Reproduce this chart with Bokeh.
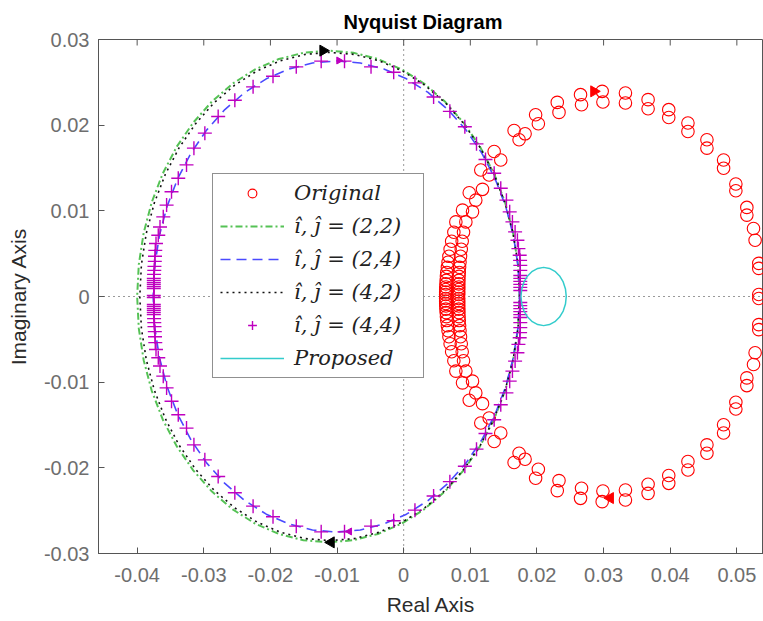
import numpy as np
from bokeh.plotting import figure
from bokeh.models import (Range1d, Span, FixedTicker, CustomJSTickFormatter,
                          Legend, LegendItem)
from bokeh.embed import file_html
from bokeh.resources import INLINE

# ---------------------------------------------------------------------------
# Nyquist data, positive-imaginary half of each response (the other half is
# the complex conjugate, i.e. the negative-frequency branch).
# ---------------------------------------------------------------------------

# "Original" response, sampled points (two interleaved sample sets)
orig_x = [
    0.05329, 0.05329, 0.0525, 0.0515, 0.04985, 0.04801, 0.04551, 0.04266,
    0.03978, 0.03668, 0.03328, 0.02979, 0.02654, 0.02305, 0.0198, 0.01657,
    0.01358, 0.01157, 0.00984, 0.00883, 0.00783,
    0.00753, 0.0072, 0.00697, 0.00679, 0.00666, 0.00656, 0.00647, 0.00642,
    0.00638, 0.00634, 0.00632, 0.00631, 0.0063, 0.0063,
    0.05329, 0.05274, 0.0515, 0.04985, 0.04801, 0.04551, 0.04266, 0.03978,
    0.03668, 0.03328, 0.0299, 0.02669, 0.02331, 0.02021, 0.01822, 0.01732,
    0.01457, 0.01283, 0.01183, 0.01082, 0.01033, 0.00933,
    0.00898, 0.00878, 0.00864, 0.00853, 0.00845, 0.00839, 0.00834, 0.00831,
    0.00829, 0.00828, 0.00827, 0.00826, 0.00826, 0.00826,
]
orig_y = [
    0.00023, 0.00387, 0.00794, 0.0104, 0.01313, 0.01594, 0.01829, 0.02025,
    0.02181, 0.02298, 0.02376, 0.02395, 0.02356, 0.02266, 0.02122, 0.01938,
    0.01692, 0.01477, 0.01211, 0.01008, 0.00871,
    0.0075, 0.00645, 0.00551, 0.00469, 0.00399, 0.0034, 0.00281, 0.00235,
    0.00188, 0.00147, 0.00111, 0.00082, 0.00053, 0.00023,
    0.00328, 0.00657, 0.0095, 0.01234, 0.01497, 0.01732, 0.01926, 0.0209,
    0.02192, 0.02259, 0.02271, 0.02239, 0.02149, 0.02016, 0.01899, 0.01829,
    0.01594, 0.01419, 0.01251, 0.01125, 0.00988, 0.00871,
    0.0075, 0.00645, 0.00551, 0.00469, 0.00399, 0.0034, 0.00281, 0.00235,
    0.00188, 0.00147, 0.00111, 0.00082, 0.00053, 0.00023,
]

# (i,j) = (2,2) response
r22_x = [0.0174, 0.01715, 0.01642, 0.01522, 0.01356, 0.01147, 0.00899, 0.00617,
         0.00305, -0.00032, -0.00387, -0.00755, -0.0113, -0.01505, -0.01873,
         -0.02228, -0.02565, -0.02877, -0.03159, -0.03407, -0.03616, -0.03782,
         -0.03902, -0.03975, -0.04]
r22_y = [0.0, 0.00375, 0.00743, 0.01098, 0.01435, 0.01747, 0.02029, 0.02277,
         0.02486, 0.02652, 0.02772, 0.02845, 0.0287, 0.02845, 0.02772, 0.02652,
         0.02486, 0.02277, 0.02029, 0.01747, 0.01435, 0.01098, 0.00743, 0.00375,
         0.0]

# (i,j) = (2,4) response
r24_x = [0.0174, 0.01716, 0.01646, 0.01531, 0.01372, 0.01172, 0.00935, 0.00664,
         0.00365, 0.00042, -0.00298, -0.00651, -0.0101, -0.01369, -0.01722,
         -0.02062, -0.02385, -0.02684, -0.02955, -0.03192, -0.03392, -0.03551,
         -0.03666, -0.03736, -0.0376]
r24_y = [0.0, 0.00359, 0.00712, 0.01052, 0.01375, 0.01674, 0.01945, 0.02182,
         0.02382, 0.02541, 0.02656, 0.02726, 0.0275, 0.02726, 0.02656, 0.02541,
         0.02382, 0.02182, 0.01945, 0.01674, 0.01375, 0.01052, 0.00712, 0.00359,
         0.0]

# (i,j) = (4,2) response
r42_x = [0.0174, 0.01716, 0.01643, 0.01523, 0.01358, 0.01151, 0.00905, 0.00625,
         0.00315, -0.00019, -0.00372, -0.00738, -0.0111, -0.01482, -0.01848,
         -0.02201, -0.02535, -0.02845, -0.03125, -0.03371, -0.03578, -0.03743,
         -0.03863, -0.03936, -0.0396]
r42_y = [0.0, 0.00372, 0.00738, 0.01091, 0.01425, 0.01735, 0.02015, 0.02261,
         0.02468, 0.02633, 0.02753, 0.02826, 0.0285, 0.02826, 0.02753, 0.02633,
         0.02468, 0.02261, 0.02015, 0.01735, 0.01425, 0.01091, 0.00738, 0.00372,
         0.0]

# (i,j) = (4,4) response, sampled points
r44_x = [0.0175, 0.0175, 0.0175, 0.0175, 0.0175, 0.0175, 0.0175, 0.0175,
         0.01747, 0.01741, 0.01722, 0.01707, 0.01672, 0.01632, 0.01591, 0.01542,
         0.01457, 0.01358, 0.01228, 0.01093, 0.00918, 0.00693, 0.00449, 0.00169,
         -0.0015, -0.0049, -0.00888, -0.01238, -0.01612, -0.01961, -0.0226,
         -0.02534, -0.02784, -0.02984, -0.03148, -0.03259, -0.03383, -0.03484,
         -0.03558, -0.03608, -0.03657, -0.03683, -0.03717, -0.03728, -0.03732,
         -0.03735, -0.0374, -0.03743, -0.03746, -0.0375, -0.0375, -0.0375,
         -0.0375, -0.0375, -0.0375, -0.0375]
r44_y = [0.0007, 0.00106, 0.00141, 0.00176, 0.00211, 0.00246, 0.00305, 0.00363,
         0.00422, 0.00481, 0.00559, 0.00657, 0.00754, 0.00871, 0.00988, 0.01125,
         0.01263, 0.01438, 0.016, 0.01782, 0.01981, 0.02161, 0.02329, 0.02494,
         0.02618, 0.02681, 0.02747, 0.02747, 0.02681, 0.02571, 0.02447,
         0.0229, 0.02102, 0.01907, 0.01732, 0.01536, 0.0138, 0.01223,
         0.01067, 0.0093, 0.00812, 0.00715, 0.00618, 0.00539, 0.00469,
         0.0041, 0.00352, 0.00305, 0.00258, 0.00211, 0.00188, 0.00164,
         0.00141, 0.00117, 0.00094, 0.00012]

# Proposed response
prop_x = [0.0244, 0.02428, 0.02394, 0.0234, 0.0227, 0.02188, 0.021, 0.02012,
          0.0193, 0.0186, 0.01806, 0.01772, 0.0176]
prop_y = [0.0, 0.00088, 0.0017, 0.0024, 0.00294, 0.00328, 0.0034, 0.00328,
          0.00294, 0.0024, 0.0017, 0.00088, 0.0]

# direction arrows (x, y, pointing right=+1 / left=-1)
arrow_k_x = [-0.0121, -0.0109]
arrow_k_y = [0.0287, -0.0287]
arrow_m_x = [-0.00973, -0.00813]
arrow_m_y = [0.02755, -0.02743]
arrow_r_x = [0.02855, 0.0310]
arrow_r_y = [0.02395, -0.02353]
arrow_dir = [1, -1]

x_ticks = [-0.04, -0.03, -0.02, -0.01, 0.0, 0.01, 0.02, 0.03, 0.04, 0.05]
y_ticks = [-0.03, -0.02, -0.01, 0.0, 0.01, 0.02, 0.03]


def both_branches(xs, ys):
    """Positive-imag half followed by its conjugate (negative frequencies)."""
    return list(xs) + list(xs[::-1]), list(ys) + [-v for v in ys[::-1]]


def arrow_angles(dirs):
    return [-np.pi / 2 if d > 0 else np.pi / 2 for d in dirs]


AX_COL = "#555555"
TICK_COL = "#6e6e6e"
LAB_COL = "#2b2b2b"
MAGENTA = "#bf00bf"

W, H = 763, 621
BORDER_L, BORDER_R, BORDER_T, BORDER_B = 98, 0, 39, 68
X0, X1 = -0.0458, 0.0540
Y0, Y1 = -0.03, 0.03
TICK_PX = 6

p = figure(width=W, height=H,
           x_range=Range1d(X0, X1), y_range=Range1d(Y0, Y1),
           output_backend="svg", toolbar_location=None,
           min_border_left=BORDER_L, min_border_right=BORDER_R,
           min_border_top=BORDER_T, min_border_bottom=BORDER_B,
           title="Nyquist Diagram")
p.xgrid.visible = False
p.ygrid.visible = False
p.outline_line_color = AX_COL
p.outline_line_width = 1
p.background_fill_color = "white"
p.border_fill_color = "white"

p.title.text_font = "Liberation Sans"
p.title.text_font_size = "20px"
p.title.text_font_style = "bold"
p.title.text_color = "black"
p.title.align = "left"
p.title.offset = 245
p.title.standoff = 14

fmt = CustomJSTickFormatter(code="return String(parseFloat(tick.toFixed(3)));")
for ax, ticks, label in ((p.xaxis[0], x_ticks, "Real Axis"),
                         (p.yaxis[0], y_ticks, "Imaginary Axis")):
    ax.ticker = FixedTicker(ticks=ticks)
    ax.formatter = fmt
    ax.axis_label = label
    ax.axis_label_text_font = "Liberation Sans"
    ax.axis_label_text_font_size = "21px"
    ax.axis_label_text_font_style = "normal"
    ax.axis_label_text_color = LAB_COL
    ax.major_label_text_font = "Liberation Sans"
    ax.major_label_text_font_size = "20px"
    ax.major_label_text_color = TICK_COL
    ax.major_tick_in = TICK_PX
    ax.major_tick_out = 0
    ax.minor_tick_in = 0
    ax.minor_tick_out = 0
    ax.axis_line_color = AX_COL
    ax.major_tick_line_color = AX_COL
p.xaxis[0].major_label_standoff = 14
p.xaxis[0].axis_label_standoff = 8
p.yaxis[0].major_label_standoff = 9
p.yaxis[0].axis_label_standoff = 11

# inward tick marks along the top edge of the box
frame_h = H - BORDER_T - BORDER_B
tick_dy = (Y1 - Y0) / frame_h * TICK_PX
p.segment(x0=x_ticks, y0=[Y1] * len(x_ticks), x1=x_ticks,
          y1=[Y1 - tick_dy] * len(x_ticks), line_color=AX_COL, line_width=1)

# dotted lines through the origin
for dim in ("height", "width"):
    p.add_layout(Span(location=0.0, dimension=dim, line_color="#333333",
                      line_dash="1 4", line_width=1, level="underlay"))

ox, oy = both_branches(orig_x, orig_y)
r_orig = p.scatter(ox, oy, marker="circle", size=12.5, fill_color=None,
                   line_color="#ff0000", line_width=1.1)

x22, y22 = both_branches(r22_x, r22_y)
r_22 = p.line(x22, y22, line_color="#55c255", line_width=2,
              line_dash="7 3 2 3")

x24, y24 = both_branches(r24_x, r24_y)
r_24 = p.line(x24, y24, line_color="#4a4aff", line_width=1.6,
              line_dash="10 6")

x42, y42 = both_branches(r42_x, r42_y)
r_42 = p.line(x42, y42, line_color="#111111", line_width=1.6,
              line_dash="2 4")

x44, y44 = both_branches(r44_x, r44_y)
r_44 = p.scatter(x44, y44, marker="cross", size=14, line_color=MAGENTA,
                 line_width=1.4)

pxs, pys = both_branches(prop_x, prop_y)
r_prop = p.line(pxs, pys, line_color="#33cccc", line_width=1.5)

ang = arrow_angles(arrow_dir)
p.scatter(arrow_k_x, arrow_k_y, marker="triangle", size=11, angle=ang,
          fill_color="black", line_color="black")
p.scatter(arrow_m_x, arrow_m_y, marker="triangle", size=7, angle=ang,
          fill_color=MAGENTA, line_color=MAGENTA)
p.scatter(arrow_r_x, arrow_r_y, marker="triangle", size=11, angle=ang,
          fill_color="#ff0000", line_color="#ff0000")

legend = Legend(items=[
    LegendItem(label="Original", renderers=[r_orig]),
    LegendItem(label="\u00ee, \u0135 = (2,2)", renderers=[r_22]),
    LegendItem(label="\u00ee, \u0135 = (2,4)", renderers=[r_24]),
    LegendItem(label="\u00ee, \u0135 = (4,2)", renderers=[r_42]),
    LegendItem(label="\u00ee, \u0135 = (4,4)", renderers=[r_44]),
    LegendItem(label="Proposed", renderers=[r_prop]),
], location=(114, 175))
legend.label_text_font = "DejaVu Serif"
legend.label_text_font_style = "italic"
legend.label_text_font_size = "21px"
legend.label_text_color = "#222222"
legend.glyph_width = 64
legend.glyph_height = 22
legend.label_height = 22
legend.label_width = 122
legend.label_standoff = 10
legend.spacing = 9
legend.padding = 7
legend.margin = 0
legend.border_line_color = "#222222"
legend.border_line_width = 1
legend.background_fill_color = "white"
legend.background_fill_alpha = 1.0
p.add_layout(legend)

open("out.html", "w").write(file_html(p, INLINE))
